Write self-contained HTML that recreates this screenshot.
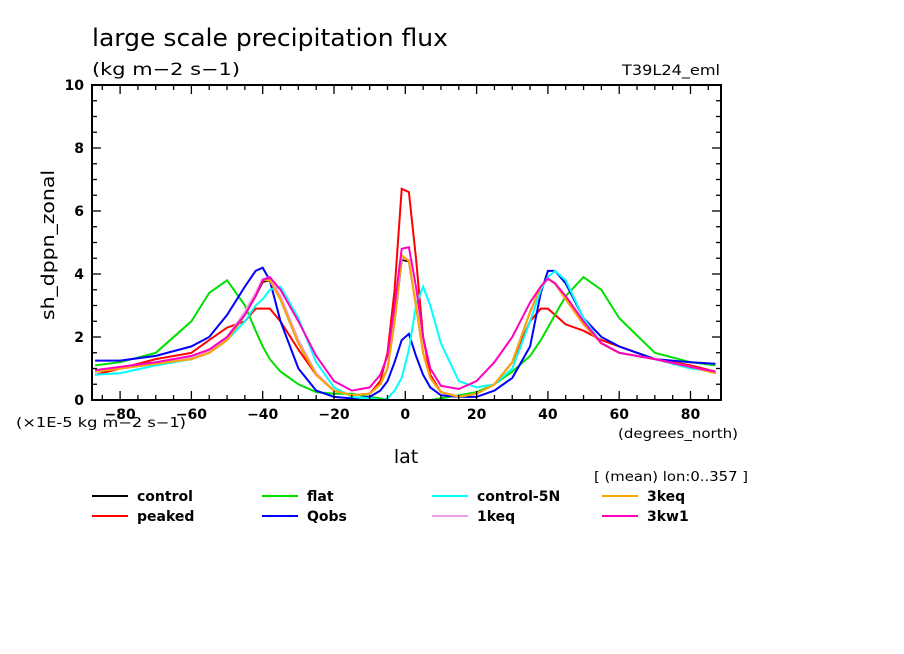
<!DOCTYPE html>
<html><head><meta charset="utf-8"><style>
body{margin:0;background:#fff}
svg{display:block;font-family:"DejaVu Sans","Liberation Sans",sans-serif}
</style></head><body>
<svg id="chart" width="904" height="654" xmlns="http://www.w3.org/2000/svg">
<rect width="904" height="654" fill="#fff"/>
<text x="92" y="46" font-size="24" textLength="356" lengthAdjust="spacingAndGlyphs">large scale precipitation flux</text>
<text x="92" y="75" font-size="17" textLength="148" lengthAdjust="spacingAndGlyphs">(kg m−2 s−1)</text>
<text x="622" y="75" font-size="14" textLength="98" lengthAdjust="spacingAndGlyphs">T39L24_eml</text>
<text x="54" y="245" font-size="18" transform="rotate(-90 54 245)" text-anchor="middle" textLength="150" lengthAdjust="spacingAndGlyphs">sh_dppn_zonal</text>
<text x="406" y="463" font-size="19" text-anchor="middle">lat</text>
<text x="16" y="427" font-size="13" textLength="170" lengthAdjust="spacingAndGlyphs">(×1E-5 kg m−2 s−1)</text>
<text x="618" y="438" font-size="13" textLength="120" lengthAdjust="spacingAndGlyphs">(degrees_north)</text>
<text x="594" y="481" font-size="13" textLength="154" lengthAdjust="spacingAndGlyphs">[ (mean) lon:0..357 ]</text>
<g id="plot"></g>
<g id="legend"></g>
</svg>
<script>
const lats=[-87,-80,-70,-60,-55,-50,-45,-42,-40,-38,-35,-30,-25,-20,-15,-10,-7,-5,-3,-1,1,3,5,7,10,15,20,25,30,35,38,40,42,45,50,55,60,70,80,87];
const control=[0.9,1.0,1.15,1.3,1.5,1.9,2.7,3.3,3.75,3.8,3.2,1.8,0.8,0.3,0.15,0.2,0.5,1.0,2.5,4.45,4.4,3.0,1.5,0.7,0.25,0.1,0.2,0.5,1.2,2.8,3.6,3.85,3.7,3.2,2.4,1.8,1.5,1.3,1.05,0.85];
const peaked=[0.8,1.0,1.3,1.5,1.9,2.3,2.5,2.9,2.9,2.9,2.5,1.6,0.8,0.3,0.15,0.2,0.6,1.5,3.5,6.7,6.6,4.5,2.0,0.8,0.25,0.1,0.2,0.5,1.2,2.5,2.9,2.9,2.7,2.4,2.2,1.9,1.7,1.3,1.1,0.9];
const flat=[1.1,1.2,1.5,2.5,3.4,3.8,3.0,2.2,1.7,1.3,0.9,0.5,0.25,0.2,0.2,0.1,0.05,0,0,0,0,0,0,0,0.05,0.15,0.25,0.5,0.9,1.4,1.9,2.3,2.7,3.3,3.9,3.5,2.6,1.5,1.2,1.1];
const qobs=[1.25,1.25,1.4,1.7,2.0,2.7,3.6,4.1,4.2,3.8,2.5,1.0,0.3,0.1,0.05,0.1,0.3,0.6,1.2,1.9,2.1,1.4,0.8,0.4,0.15,0.1,0.1,0.3,0.7,1.7,3.4,4.1,4.1,3.7,2.6,2.0,1.7,1.3,1.2,1.15];
const control5n=[0.8,0.85,1.1,1.3,1.5,1.9,2.5,3.0,3.2,3.5,3.6,2.6,1.2,0.4,0.1,0.05,0,0.05,0.3,0.7,1.6,3.0,3.6,3.0,1.8,0.6,0.4,0.5,1.0,2.5,3.5,3.9,4.1,3.8,2.6,1.8,1.5,1.3,1.0,0.9];
const keq1=[0.9,1.0,1.15,1.35,1.55,2.0,2.8,3.4,3.85,3.9,3.3,1.9,0.85,0.3,0.15,0.2,0.5,1.0,2.5,4.5,4.45,3.0,1.5,0.7,0.25,0.1,0.2,0.5,1.2,2.8,3.6,3.85,3.7,3.2,2.4,1.8,1.5,1.3,1.05,0.85];
const keq3=[0.9,1.0,1.15,1.3,1.5,1.9,2.7,3.3,3.8,3.8,3.2,1.8,0.8,0.3,0.15,0.2,0.5,1.0,2.5,4.6,4.4,3.0,1.5,0.7,0.25,0.1,0.2,0.5,1.2,2.8,3.6,3.85,3.7,3.2,2.4,1.8,1.5,1.3,1.05,0.85];
const kw1=[0.95,1.05,1.2,1.4,1.6,2.0,2.7,3.3,3.8,3.9,3.5,2.5,1.4,0.6,0.3,0.4,0.8,1.4,3.0,4.8,4.85,3.6,2.0,1.0,0.45,0.35,0.6,1.2,2.0,3.1,3.6,3.85,3.7,3.3,2.5,1.8,1.5,1.3,1.05,0.9];
const seriesNames=["control","peaked","flat","Qobs","control-5N","1keq","3keq","3kw1"];
const seriesData=[control,peaked,flat,qobs,control5n,keq1,keq3,kw1];
const seriesColors=["#000000","#ff0000","#00e000","#0000ff","#00ffff","#e8a0e8","#ffa500","#ff00c0"];
const xTicks=[-80,-60,-40,-20,0,20,40,60,80];
const yTicks=[0,2,4,6,8,10];

const NS="http://www.w3.org/2000/svg";
const L=92,R=721,T=85,B=400;
const xs=v=>405.3+v*3.565;
const ys=v=>B-(v/10)*(B-T);
const plot=document.getElementById('plot');
function mk(tag,attrs,parent){const e=document.createElementNS(NS,tag);for(const k in attrs)e.setAttribute(k,attrs[k]);parent.appendChild(e);return e;}
const defs=mk('defs',{},plot);
const cp=mk('clipPath',{id:'cp'},defs);
mk('rect',{x:L,y:T,width:R-L,height:B-T},cp);
const lineG=mk('g',{'clip-path':'url(#cp)'},plot);


seriesData.forEach((d,i)=>{
  const pts=d.map((v,j)=>xs(lats[j]).toFixed(1)+','+ys(v).toFixed(1)).join(' ');
  const p=mk('polyline',{points:pts,fill:'none',stroke:seriesColors[i],'stroke-width':2},lineG);
  
  
});
const frame=mk('rect',{x:L,y:T,width:R-L,height:B-T,fill:'none',stroke:'#000','stroke-width':2},plot);


const tg=mk('g',{stroke:'#000','stroke-width':1.3},plot);
for(let v=-85;v<=85;v+=5){const x=xs(v);const len=(v%20===0)?9:5;
  mk('line',{x1:x,y1:B,x2:x,y2:B-len},tg);mk('line',{x1:x,y1:T,x2:x,y2:T+len},tg);}
for(let v=0;v<=10;v+=0.5){const y=ys(v);const len=(v%2===0)?9:5;
  mk('line',{x1:L,y1:y,x2:L+len,y2:y},tg);mk('line',{x1:R,y1:y,x2:R-len,y2:y},tg);}
xTicks.forEach(v=>{const t=mk('text',{x:xs(v),y:419,'font-size':14,'font-weight':'bold','text-anchor':'middle'},plot);t.textContent=String(v).replace('-','−');
  
  });
yTicks.forEach(v=>{const t=mk('text',{x:84,y:ys(v)+5,'font-size':14,'font-weight':'bold','text-anchor':'end'},plot);t.textContent=v;
  
  });
const lg=document.getElementById('legend');
seriesNames.forEach((n,i)=>{
  const col=Math.floor(i/2);
  const row=i%2;
  const x=92+col*170,y=496+row*20;
  const g=mk('g',{},lg);
  
  
  mk('line',{x1:x,y1:y,x2:x+36,y2:y,stroke:seriesColors[i],'stroke-width':2},g);
  const t=mk('text',{x:x+45,y:y+5,'font-size':14,'font-weight':'bold'},g);t.textContent=n;
});
</script>
</body></html>
